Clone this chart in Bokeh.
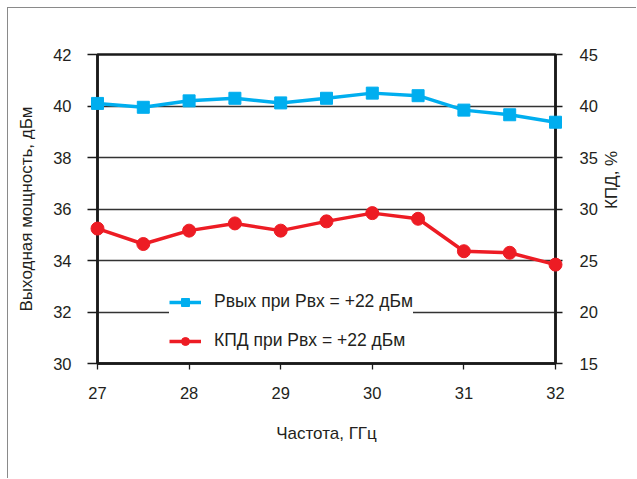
import math
from bokeh.plotting import figure
from bokeh.models import Range1d, LinearAxis, Legend, LegendItem, FixedTicker
from bokeh.embed import file_html
from bokeh.resources import INLINE

freq = [27, 27.5, 28, 28.5, 29, 29.5, 30, 30.5, 31, 31.5, 32]
pout = [40.1, 39.95, 40.2, 40.3, 40.12, 40.3, 40.5, 40.4, 39.84, 39.66, 39.37]
eff = [28.1, 26.6, 27.9, 28.6, 27.9, 28.8, 29.6, 29.05, 25.9, 25.75, 24.6]
x_ticks = [27, 28, 29, 30, 31, 32]
left_ticks = [30, 32, 34, 36, 38, 40, 42]
right_ticks = [15, 20, 25, 30, 35, 40, 45]

FONT = "Liberation Sans"
TXT = "#231f20"
FR = "#1a1a1a"

p = figure(width=629, height=471, x_range=Range1d(27, 32), y_range=Range1d(30, 42),
           output_backend="svg", toolbar_location=None,
           min_border_left=89, min_border_right=82, min_border_top=46, min_border_bottom=116)
p.styles = {"margin-left": "7px", "margin-top": "7px",
            "border-left": "1px solid #8a8a8a", "border-top": "1px solid #8a8a8a"}
p.extra_y_ranges = {"eff": Range1d(15, 45)}
p.background_fill_color = "white"
p.border_fill_color = "white"
p.outline_line_color = FR
p.outline_line_width = 2.5

p.xgrid.visible = False
p.ygrid.ticker = FixedTicker(ticks=left_ticks)
p.ygrid.grid_line_color = "#333333"
p.ygrid.grid_line_width = 1.3

def style_axis(ax, tick_out, standoff, label_standoff):
    ax.axis_line_color = FR
    ax.axis_line_width = 2.5
    ax.major_tick_in = 0
    ax.major_tick_out = tick_out
    ax.major_tick_line_color = FR
    ax.major_tick_line_width = 1.3
    ax.minor_tick_line_color = None
    ax.major_label_standoff = standoff
    ax.major_label_text_font = FONT
    ax.major_label_text_font_size = "16.5px"
    ax.major_label_text_color = TXT
    ax.axis_label_text_font = FONT
    ax.axis_label_text_font_size = "17px"
    ax.axis_label_text_font_style = "normal"
    ax.axis_label_text_color = TXT
    ax.axis_label_standoff = label_standoff

xa = p.xaxis[0]
xa.ticker = FixedTicker(ticks=x_ticks)
xa.axis_label = "Частота, ГГц"
style_axis(xa, 6, 17, 22)

ya = p.yaxis[0]
ya.ticker = FixedTicker(ticks=left_ticks)
ya.axis_label = "Выходная мощность, дБм"
style_axis(ya, 10, 16, 14)

ra = LinearAxis(y_range_name="eff", ticker=FixedTicker(ticks=right_ticks), axis_label="КПД, %")
style_axis(ra, 7, 17, 11)
try:
    ra.axis_label_orientation = math.pi / 2
except Exception:
    pass
p.add_layout(ra, "right")

BLUE = "#00aeef"
RED = "#ed1c24"
l1 = p.line(freq, pout, line_color=BLUE, line_width=3.5)
s1 = p.scatter(freq, pout, marker="square", size=12, fill_color=BLUE, line_color=BLUE, level="overlay")
l2 = p.line(freq, eff, line_color=RED, line_width=3.5, y_range_name="eff")
s2 = p.scatter(freq, eff, marker="circle", size=13, fill_color=RED, line_color=RED,
               y_range_name="eff", level="overlay")

legend = Legend(items=[
    LegendItem(label="Рвых при Рвх = +22 дБм", renderers=[l1, s1]),
    LegendItem(label="КПД при Рвх = +22 дБм", renderers=[l2, s2]),
], location=(72, 12))
legend.background_fill_color = "white"
legend.background_fill_alpha = 1.0
legend.border_line_color = None
legend.padding = 14
legend.spacing = 18
legend.glyph_width = 32
legend.glyph_height = 20
legend.label_height = 20
legend.label_standoff = 13
legend.label_text_font = FONT
legend.label_text_font_size = "17.5px"
legend.label_text_color = TXT
p.add_layout(legend, "center")

open("out.html", "w").write(file_html(p, INLINE))
